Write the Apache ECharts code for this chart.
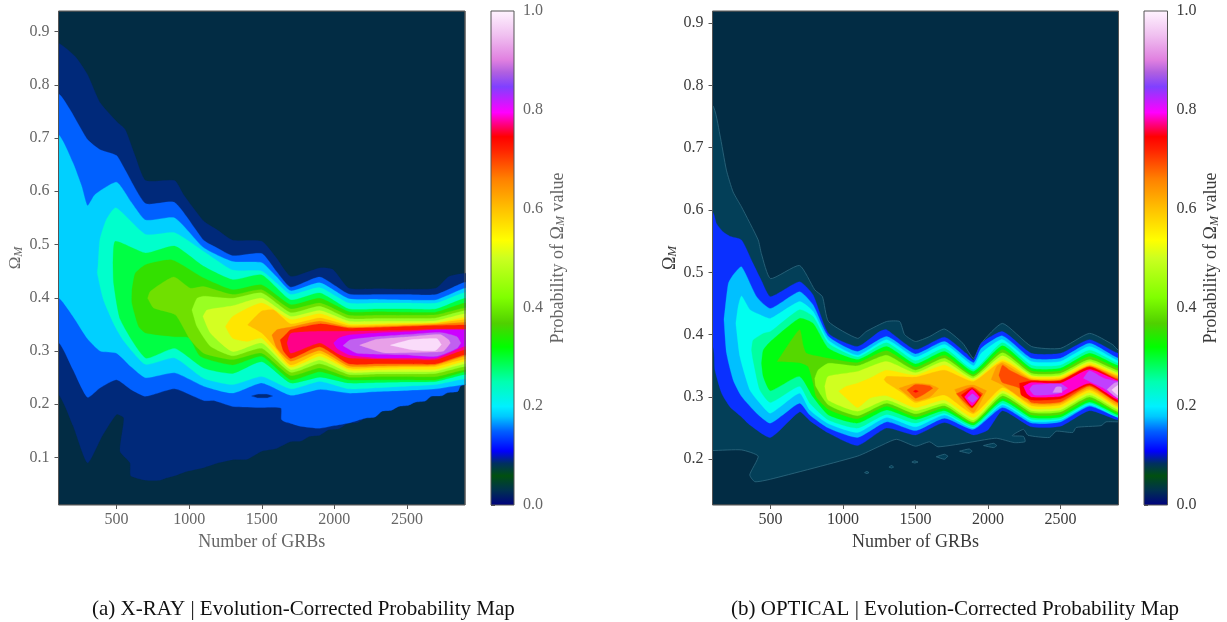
<!DOCTYPE html>
<html><head><meta charset="utf-8">
<style>html,body{margin:0;padding:0;background:#fff}#c{width:1227px;height:622px}</style>
<script src="https://cdn.jsdelivr.net/npm/echarts@6/dist/echarts.min.js"></script>
</head><body><div id="c"></div>
<script>
// tick labels
const xTicks=[500,1000,1500,2000,2500];
const xrayOmegaTicks=[0.1,0.2,0.3,0.4,0.5,0.6,0.7,0.8,0.9];
const opticalOmegaTicks=[0.2,0.3,0.4,0.5,0.6,0.7,0.8,0.9];
const barTicks=[0,0.2,0.4,0.6,0.8,1];
// colour bar
const barValues=[0,0.03,0.06,0.085,0.11,0.15,0.18,0.2,0.25,0.32,0.368,0.42,0.5,0.536,0.6,0.66,0.72,0.745,0.77,0.794,0.846,0.875,0.9,0.95,1];
const barColors=['#000080','#003050','#005010','#003060','#0000ff','#0060ff','#00c8ff','#00f0ff','#00ffb0','#00ff00','#50d000','#80ff00','#ccff20','#ffff00','#ffc000','#ff8000','#ff2000','#ff0000','#ff0080','#ff00ff','#8040ff','#b060e0','#e080e0','#f0c0f0','#fff4ff'];
// X-RAY contour levels: [N, Omega] along upper and lower edge
const a1u=[[100,.878],[215,.853],[300,.819],[387,.766],[500,.731],[559,.716],[628,.666],[700,.62],[900,.62],[960,.594],[1100,.544],[1190,.528],[1300,.508],[1500,.506],[1600,.475],[1700,.44],[1900,.456],[1990,.453],[2100,.418],[2300,.417],[2500,.416],[2700,.418],[2790,.44],[2900,.446]];
const a1l=[[100,.218],[200,.16],[300,.09],[400,.14],[500,.181],[550,.174],[524,.112],[593,.09],[598,.066],[700,.0575],[800,.0575],[845,.062],[900,.066],[983,.074],[1100,.081],[1200,.09],[1300,.096],[1400,.097],[1500,.112],[1600,.117],[1700,.13],[1770,.131],[1830,.14],[1900,.142],[1960,.152],[2030,.154],[2090,.164],[2160,.166],[2213,.174],[2280,.176],[2328,.187],[2395,.189],[2443,.196],[2510,.198],[2557,.204],[2625,.206],[2668,.215],[2740,.216],[2783,.222],[2850,.224],[2868,.234],[2900,.237]];
const a2u=[[100,.783],[180,.753],[300,.697],[387,.678],[500,.667],[559,.64],[700,.577],[900,.579],[1100,.508],[1190,.494],[1300,.479],[1500,.483],[1600,.45],[1700,.42],[1900,.439],[2100,.407],[2300,.406],[2500,.406],[2700,.406],[2900,.429]];
const a2l=[[100,.316],[200,.265],[300,.213],[387,.231],[500,.246],[598,.228],[700,.215],[900,.229],[1100,.207],[1170,.207],[1300,.196],[1500,.194],[1632,.193],[1635,.172],[1660,.167],[1700,.164],[1763,.159],[1900,.155],[2000,.16],[2100,.165],[2213,.174],[2280,.176],[2328,.187],[2395,.189],[2443,.196],[2510,.198],[2557,.204],[2625,.206],[2668,.215],[2740,.216],[2783,.222],[2850,.224],[2868,.234],[2900,.237]];
const a2islandU=[[1430,.2155],[1470,.2185],[1540,.2185],[1575,.2155]];
const a2islandL=[[1430,.2155],[1470,.2125],[1540,.2125],[1575,.2155]];
const a3u=[[100,.706],[200,.653],[260,.609],[300,.573],[352,.594],[500,.617],[600,.58],[700,.546],[900,.55],[1100,.494],[1300,.468],[1500,.466],[1600,.44],[1700,.413],[1900,.428],[2100,.398],[2300,.397],[2500,.396],[2700,.396],[2900,.418]];
const a3l=[[100,.40],[200,.365],[300,.323],[387,.30],[500,.296],[598,.271],[700,.25],[900,.259],[1100,.234],[1300,.221],[1500,.24],[1700,.217],[1900,.228],[2100,.221],[2300,.224],[2500,.226],[2700,.229],[2900,.237]];
const a4u=[[372,.459],[385,.509],[430,.547],[495,.569],[700,.519],[900,.522],[1100,.487],[1300,.452],[1500,.45],[1600,.428],[1700,.406],[1900,.419],[2100,.39],[2300,.39],[2500,.39],[2700,.39],[2900,.41]];
const a4l=[[372,.459],[368,.446],[410,.396],[490,.346],[547,.32],[700,.275],[900,.287],[1100,.249],[1300,.237],[1500,.252],[1700,.229],[1900,.243],[2100,.229],[2300,.231],[2500,.234],[2700,.237],[2900,.248]];
const a5u=[[475,.465],[491,.506],[700,.484],[900,.497],[1100,.459],[1300,.434],[1500,.443],[1700,.396],[1900,.409],[2100,.379],[2300,.379],[2500,.379],[2700,.379],[2900,.399]];
const a5l=[[475,.465],[480,.427],[526,.359],[700,.287],[900,.305],[1100,.268],[1300,.258],[1500,.28],[1700,.24],[1900,.251],[2100,.24],[2300,.241],[2500,.242],[2700,.243],[2900,.256]];
const a6u=[[606,.415],[629,.446],[700,.462],[881,.471],[1100,.437],[1300,.415],[1500,.424],[1700,.387],[1900,.399],[2100,.374],[2300,.374],[2500,.373],[2700,.373],[2900,.39]];
const a6l=[[606,.415],[606,.39],[652,.346],[700,.334],[900,.327],[1000,.325],[1077,.29],[1300,.274],[1500,.29],[1700,.246],[1900,.261],[2100,.246],[2300,.246],[2500,.246],[2700,.246],[2900,.261]];
const a7u=[[714,.399],[732,.412],[893,.439],[1008,.418],[1100,.421],[1300,.406],[1500,.415],[1700,.379],[1900,.39],[2100,.367],[2300,.367],[2500,.367],[2700,.368],[2900,.381]];
const a7l=[[714,.399],[755,.381],[905,.368],[1008,.321],[1100,.296],[1300,.284],[1500,.296],[1700,.254],[1900,.268],[2100,.251],[2300,.252],[2500,.252],[2700,.252],[2900,.265]];
const a8u=[[1019,.377],[1054,.399],[1100,.403],[1300,.399],[1500,.409],[1700,.372],[1900,.384],[2100,.361],[2300,.361],[2500,.361],[2700,.362],[2900,.376]];
const a8l=[[1019,.377],[1054,.346],[1146,.309],[1300,.291],[1500,.305],[1700,.26],[1900,.276],[2100,.256],[2300,.257],[2500,.257],[2700,.258],[2900,.271]];
const a9u=[[1095,.365],[1123,.377],[1300,.385],[1500,.399],[1700,.365],[1900,.376],[2100,.356],[2300,.356],[2500,.356],[2700,.357],[2900,.37]];
const a9l=[[1095,.365],[1146,.334],[1300,.299],[1500,.315],[1700,.265],[1900,.283],[2100,.26],[2300,.261],[2500,.261],[2700,.262],[2900,.276]];
const a10u=[[1249,.346],[1300,.365],[1500,.39],[1700,.359],[1900,.37],[2100,.351],[2300,.351],[2500,.352],[2700,.353],[2900,.363]];
const a10l=[[1249,.346],[1300,.324],[1398,.318],[1500,.324],[1700,.27],[1900,.29],[2100,.265],[2300,.265],[2500,.266],[2700,.266],[2900,.281]];
const a11u=[[1403,.349],[1500,.375],[1582,.377],[1700,.351],[1900,.362],[2100,.348],[2300,.349],[2500,.35],[2700,.352],[2900,.359]];
const a11l=[[1403,.349],[1500,.334],[1582,.31],[1700,.274],[1900,.296],[2100,.268],[2300,.269],[2500,.27],[2700,.271],[2900,.285]];
const a12u=[[1570,.33],[1605,.34],[1700,.345],[1900,.356],[2100,.345],[2300,.346],[2500,.348],[2700,.35],[2900,.354]];
const a12l=[[1570,.33],[1605,.305],[1700,.281],[1900,.301],[2100,.272],[2300,.272],[2500,.273],[2700,.274],[2900,.29]];
const a13u=[[1628,.321],[1662,.33],[1700,.34],[1900,.351],[2100,.343],[2300,.344],[2500,.346],[2700,.348],[2900,.349]];
const a13l=[[1628,.32],[1650,.30],[1700,.286],[1900,.308],[2100,.276],[2300,.276],[2500,.276],[2700,.276],[2900,.293]];
const a14u=[[1674,.315],[1700,.333],[1900,.337],[2100,.337],[2300,.338],[2500,.339],[2700,.341],[2900,.341]];
const a14l=[[1674,.315],[1700,.296],[1900,.315],[2018,.296],[2100,.287],[2300,.285],[2500,.284],[2700,.284],[2900,.303]];
const a15u=[[1995,.315],[2030,.324],[2100,.33],[2300,.334],[2500,.336],[2700,.34],[2900,.34]];
const a15l=[[1995,.315],[2018,.305],[2100,.293],[2300,.287],[2500,.287],[2700,.287],[2900,.309]];
const a16u=[[2060,.31],[2110,.321],[2248,.326],[2500,.331],[2730,.335],[2845,.327],[2872,.315]];
const a16l=[[2060,.31],[2156,.296],[2477,.293],[2707,.29],[2845,.305],[2872,.315]];
const a17u=[[2174,.311],[2294,.322],[2523,.327],[2730,.331],[2787,.321],[2799,.315]];
const a17l=[[2174,.311],[2340,.297],[2684,.298],[2753,.3],[2799,.315]];
const a18u=[[2386,.311],[2523,.321],[2707,.323],[2737,.312]];
const a18l=[[2386,.311],[2546,.302],[2696,.301],[2737,.312]];
const xrayColors=['#00297a','#0060ff','#00297a','#00d0ff','#00ffcc','#00ff44','#33e000','#70e000','#99ff22','#d4ff22','#ffe600','#ffbf00','#ff8000','#ff2000','#ff0088','#cc00ff','#c060f0','#e8a0e8','#fadcfa'];
// OPTICAL contour levels
const o1u=[[100,.768],[150,.722],[196,.664],[242,.629],[300,.605],[415,.552],[437,.53],[500,.49],[700,.511],[805,.472],[858,.461],[900,.421],[1100,.394],[1160,.405],[1300,.421],[1391,.421],[1425,.4],[1500,.389],[1597,.397],[1700,.409],[1827,.386],[1900,.362],[1953,.386],[2100,.418],[2300,.381],[2500,.378],[2700,.402],[2860,.384],[2900,.375]];
const o1l=[[100,.214],[300,.215],[415,.205],[357,.175],[392,.164],[500,.168],[1100,.205],[1253,.221],[1368,.232],[1500,.221],[1597,.228],[1655,.22],[1896,.228],[2057,.2337],[2183,.2267],[2256,.2283],[2245,.2366],[2167,.2379],[2245,.248],[2275,.2386],[2424,.235],[2470,.245],[2585,.243],[2608,.251],[2780,.254],[2814,.26],[2900,.26]];
const isle1u=[[1149,.1786],[1165,.1805],[1179,.1786]],isle1l=[[1149,.1786],[1165,.177],[1179,.1786]];
const isle2u=[[1317,.1875],[1335,.19],[1349,.1875]],isle2l=[[1317,.1875],[1335,.186],[1349,.1875]];
const isle3u=[[1475,.1955],[1495,.1975],[1517,.1955]],isle3l=[[1475,.1955],[1495,.194],[1517,.1955]];
const isle4u=[[1643,.204],[1700,.208],[1724,.205]],isle4l=[[1643,.204],[1700,.2],[1724,.205]];
const isle5u=[[1804,.213],[1870,.2165],[1891,.213]],isle5l=[[1804,.213],[1870,.2096],[1891,.213]];
const isle6u=[[1969,.222],[2040,.2256],[2061,.222]],isle6l=[[1969,.222],[2040,.2187],[2061,.222]];
const o2u=[[100,.597],[128,.578],[173,.565],[219,.558],[300,.552],[380,.514],[437,.487],[500,.461],[700,.485],[793,.464],[900,.402],[1100,.381],[1252,.405],[1300,.408],[1500,.376],[1700,.396],[1850,.37],[1900,.359],[1953,.386],[2100,.405],[2300,.37],[2500,.37],[2700,.392],[2900,.37]];
const o2l=[[100,.381],[117,.343],[163,.306],[221,.284],[300,.268],[358,.255],[500,.235],[700,.276],[771,.262],[900,.242],[1100,.222],[1300,.25],[1500,.239],[1700,.259],[1900,.239],[1999,.247],[2100,.278],[2300,.252],[2500,.253],[2700,.278],[2900,.263]];
const o3u=[[179,.424],[209,.482],[243,.496],[300,.509],[404,.461],[500,.442],[700,.469],[793,.448],[900,.397],[1100,.373],[1300,.397],[1500,.369],[1700,.389],[1900,.355],[1953,.378],[2100,.398],[2300,.362],[2500,.362],[2700,.386],[2900,.362]];
const o3l=[[179,.424],[197,.37],[243,.327],[300,.301],[404,.274],[500,.258],[700,.29],[771,.271],[900,.25],[1100,.235],[1300,.26],[1500,.246],[1700,.266],[1900,.248],[2100,.283],[2300,.258],[2500,.26],[2700,.285],[2900,.267]];
const o4u=[[261,.418],[277,.445],[300,.462],[358,.44],[427,.432],[500,.426],[700,.453],[794,.437],[900,.391],[1100,.367],[1300,.392],[1500,.364],[1700,.384],[1900,.35],[1953,.37],[2100,.392],[2300,.357],[2500,.357],[2700,.381],[2900,.358]];
const o4l=[[261,.418],[289,.365],[358,.311],[427,.29],[500,.274],[700,.306],[771,.279],[900,.257],[1100,.243],[1300,.267],[1500,.252],[1700,.271],[1900,.25],[2100,.287],[2300,.261],[2500,.263],[2700,.287],[2900,.267]];
const o5u=[[369,.375],[380,.391],[450,.402],[500,.405],[700,.44],[794,.429],[900,.386],[1100,.364],[1300,.387],[1500,.358],[1700,.378],[1900,.344],[2100,.387],[2300,.351],[2500,.351],[2700,.375],[2900,.354]];
const o5l=[[369,.375],[380,.359],[427,.311],[500,.291],[700,.317],[771,.29],[900,.263],[1100,.25],[1300,.272],[1500,.258],[1700,.274],[1900,.252],[2100,.29],[2300,.264],[2500,.265],[2700,.29],[2900,.268]];
const o6u=[[438,.354],[450,.375],[500,.389],[700,.426],[794,.418],[900,.378],[1100,.36],[1300,.381],[1500,.353],[1700,.373],[1900,.341],[2100,.382],[2300,.346],[2500,.346],[2700,.37],[2900,.35]];
const o6l=[[438,.354],[450,.333],[500,.31],[700,.333],[794,.30],[900,.271],[1100,.258],[1300,.279],[1500,.264],[1700,.278],[1900,.255],[2100,.294],[2300,.267],[2500,.268],[2700,.292],[2900,.271]];
const o7u=[[546,.357],[700,.408],[725,.383],[748,.37],[900,.362],[1100,.355],[1300,.374],[1500,.348],[1700,.367],[1900,.336],[2100,.376],[2300,.342],[2500,.342],[2700,.365],[2900,.346]];
const o7l=[[546,.357],[700,.355],[759,.349],[794,.322],[816,.30],[900,.28],[1100,.265],[1300,.285],[1500,.268],[1700,.282],[1900,.258],[2100,.298],[2300,.271],[2500,.272],[2700,.296],[2900,.274]];
const o8u=[[805,.33],[828,.343],[900,.354],[1100,.35],[1300,.367],[1500,.343],[1700,.362],[1900,.333],[2100,.371],[2300,.338],[2500,.338],[2700,.36],[2900,.342]];
const o8l=[[805,.33],[812,.317],[900,.287],[1100,.27],[1300,.29],[1500,.273],[1700,.286],[1900,.26],[2100,.302],[2300,.275],[2500,.276],[2700,.30],[2900,.276]];
const o9u=[[874,.317],[897,.333],[1100,.341],[1300,.357],[1500,.339],[1700,.357],[1900,.33],[2100,.366],[2300,.335],[2500,.335],[2700,.357],[2900,.339]];
const o9l=[[874,.317],[897,.295],[1100,.277],[1300,.295],[1500,.278],[1700,.29],[1900,.263],[2100,.306],[2300,.278],[2500,.279],[2700,.303],[2900,.279]];
const o10u=[[970,.309],[1023,.317],[1100,.322],[1184,.33],[1300,.343],[1500,.335],[1700,.351],[1900,.327],[2100,.36],[2300,.333],[2500,.333],[2700,.354],[2900,.336]];
const o10l=[[970,.309],[1023,.298],[1100,.283],[1184,.298],[1300,.302],[1500,.283],[1700,.295],[1900,.267],[2100,.31],[2300,.282],[2500,.283],[2700,.307],[2900,.282]];
const o11u=[[1283,.328],[1300,.333],[1500,.332],[1700,.343],[1900,.325],[2100,.357],[2300,.33],[2500,.33],[2700,.351],[2900,.334]];
const o11l=[[1283,.328],[1300,.323],[1413,.306],[1500,.291],[1700,.303],[1900,.273],[2100,.315],[2300,.286],[2500,.287],[2700,.311],[2900,.284]];
const o12au=[[1386,.314],[1500,.322],[1600,.32],[1660,.314]],o12al=[[1386,.314],[1500,.294],[1600,.30],[1660,.314]];
const o12bu=[[1770,.312],[1850,.318],[1900,.319],[1990,.31]],o12bl=[[1770,.312],[1810,.295],[1900,.275],[1990,.31]];
const o12cu=[[2022,.328],[2060,.349],[2100,.354],[2300,.328],[2500,.328],[2700,.35],[2900,.332]],o12cl=[[2022,.328],[2100,.319],[2300,.289],[2500,.29],[2700,.314],[2900,.287]];
const o13au=[[1441,.311],[1500,.32],[1597,.318],[1620,.314]],o13al=[[1441,.311],[1500,.298],[1550,.303],[1620,.314]];
const o13bu=[[1781,.305],[1890,.316],[1965,.305]],o13bl=[[1781,.305],[1890,.282],[1965,.305]];
const o13cu=[[2075,.335],[2100,.351],[2150,.343],[2300,.327],[2500,.327],[2700,.349],[2900,.329]],o13cl=[[2075,.335],[2100,.323],[2217,.314],[2300,.291],[2500,.292],[2700,.317],[2900,.29]];
const o14au=[[1485,.309],[1502,.311],[1520,.309]],o14al=[[1485,.309],[1502,.307],[1520,.309]];
const o14bu=[[1815,.303],[1890,.314],[1955,.303]],o14bl=[[1815,.303],[1890,.283],[1955,.303]];
const o14cu=[[2217,.322],[2300,.326],[2500,.326],[2700,.348],[2900,.327]],o14cl=[[2217,.322],[2230,.303],[2300,.295],[2500,.297],[2700,.319],[2900,.291]];
const o15bu=[[1838,.30],[1890,.312],[1942,.30]],o15bl=[[1838,.30],[1890,.286],[1942,.30]];
const o15cu=[[2245,.317],[2300,.323],[2500,.322],[2700,.344],[2900,.326]],o15cl=[[2245,.317],[2270,.305],[2300,.300],[2500,.301],[2700,.322],[2900,.295]];
const o16bu=[[1857,.298],[1893,.305],[1930,.298]],o16bl=[[1857,.298],[1893,.291],[1930,.298]];
const o16cu=[[2286,.312],[2310,.319],[2500,.321],[2550,.314]],o16cl=[[2286,.312],[2320,.303],[2480,.305],[2550,.314]];
const o16du=[[2658,.33],[2700,.342],[2800,.33],[2900,.325]],o16dl=[[2658,.33],[2700,.325],[2790,.315],[2900,.298]];
const o17au=[[2447,.307],[2470,.316],[2505,.316],[2511,.307]],o17al=[[2447,.307],[2511,.307]];
const o17bu=[[2821,.312],[2870,.322],[2900,.324]],o17bl=[[2821,.312],[2870,.302],[2900,.298]];
const o18u=[[2853,.311],[2900,.319]],o18l=[[2853,.311],[2900,.302]];
const opticalDark='#033f58',opticalBlue='#0a30ff',opticalOrange='#ff9a00',opticalRedOrange='#ff4a00',opticalRed='#ff0000',opticalMagenta='#ff00d0',opticalViolet='#c040ff',opticalLilac='#d890f0',opticalPale='#f4d4f4';

const xrayPairs=[[a1u,a1l],[a2u,a2l],[a2islandU,a2islandL],[a3u,a3l],[a4u,a4l],[a5u,a5l],[a6u,a6l],[a7u,a7l],[a8u,a8l],[a9u,a9l],[a10u,a10l],[a11u,a11l],[a12u,a12l],[a13u,a13l],[a14u,a14l],[a15u,a15l],[a16u,a16l],[a17u,a17l],[a18u,a18l]];
const xrayBands=xrayPairs.map((p,i)=>({u:p[0],l:p[1],color:xrayColors[i]}));
const ob=(u,l,color,stroke)=>({u,l,color,stroke});
const edge='#2f6a80';
const opticalBands=[
 ob(o1u,o1l,opticalDark,edge),ob(isle1u,isle1l,opticalDark,edge),ob(isle2u,isle2l,opticalDark,edge),ob(isle3u,isle3l,opticalDark,edge),ob(isle4u,isle4l,opticalDark,edge),ob(isle5u,isle5l,opticalDark,edge),ob(isle6u,isle6l,opticalDark,edge),
 ob(o2u,o2l,opticalBlue),ob(o3u,o3l,'#00c0ff'),ob(o4u,o4l,'#00fff0'),ob(o5u,o5l,'#00ffa0'),ob(o6u,o6l,'#00ff10'),ob(o7u,o7l,'#55d800'),ob(o8u,o8l,'#90ff10'),ob(o9u,o9l,'#d0ff20'),ob(o10u,o10l,'#ffe800'),ob(o11u,o11l,'#ffbf00'),
 ob(o12au,o12al,opticalOrange),ob(o12bu,o12bl,opticalOrange),ob(o12cu,o12cl,opticalOrange),
 ob(o13au,o13al,opticalRedOrange),ob(o13bu,o13bl,opticalRedOrange),ob(o13cu,o13cl,opticalRedOrange),
 ob(o14au,o14al,opticalRed),ob(o14bu,o14bl,opticalRed),ob(o14cu,o14cl,opticalRed),
 ob(o15bu,o15bl,opticalMagenta),ob(o15cu,o15cl,opticalMagenta),
 ob(o16bu,o16bl,opticalViolet),ob(o16cu,o16cl,opticalViolet),ob(o16du,o16dl,opticalViolet),
 ob(o17au,o17al,opticalLilac),ob(o17bu,o17bl,opticalLilac),ob(o18u,o18l,opticalPale)
];

const serif='"Liberation Serif"';
const spine='#555';
// maps the two edges to pixels; ends on the plot's side walls run on outside the clip so rounding stays hidden
function outline(b,api,c){
  const up=b.u.map(p=>api.coord(p)),lo=b.l.map(p=>api.coord(p));
  const pad=24,out=[];
  const ua=up[0],la=lo[0],uz=up[up.length-1],lz=lo[lo.length-1];
  const onLeft=Math.abs(ua[0]-c.x)<1, onRight=Math.abs(uz[0]-c.x-c.width)<1;
  if(onLeft)out.push([ua[0]-pad,ua[1]]);
  out.push(...up);
  if(onRight){out.push([uz[0]+pad,uz[1]],[lz[0]+pad,lz[1]]);}
  out.push(...lo.slice().reverse());
  if(onLeft)out.push([la[0]-pad,la[1]]);
  return out;
}
const contourSeries=(idx,bands)=>({
  type:'custom',xAxisIndex:idx,yAxisIndex:idx,clip:true,silent:true,animation:false,
  data:bands.map(b=>b.u[0]).concat([[2900,0.5]]),
  renderItem(params,api){
    const b=bands[params.dataIndex],c=params.coordSys;
    if(!b)return{type:'rect',shape:{x:c.x,y:c.y,width:c.width,height:c.height},style:{fill:'none',stroke:spine,lineWidth:1}};
    return{type:'polygon',shape:{points:outline(b,api,c),smooth:0.18},style:{fill:b.color,stroke:b.stroke||b.color,lineWidth:b.stroke?0.8:0.3}};
  }
});
const barSeries=idx=>({
  type:'custom',xAxisIndex:idx,yAxisIndex:idx,silent:true,animation:false,data:[[0,0]],
  renderItem(params,api){
    const a=api.coord([0,0]),b=api.coord([1,1]);
    return{type:'rect',shape:{x:a[0],y:b[1],width:b[0]-a[0],height:a[1]-b[1]},style:{stroke:spine,lineWidth:1,
      fill:new echarts.graphic.LinearGradient(0,1,0,0,barValues.map((v,i)=>({offset:v,color:barColors[i]})))}};
  }
});
const ticks=(vals,color,size,margin)=>({
  axisLine:{show:false},axisTick:{length:4,lineStyle:{color:spine},customValues:vals},splitLine:{show:false},
  axisLabel:{customValues:vals,color,fontFamily:serif,fontSize:size,margin,formatter:v=>Number.isInteger(v)&&v>1?String(v):Number(v).toFixed(1)}
});
const rich=(c,s1,s2)=>({color:c,fontFamily:serif,rich:{t:{fontFamily:serif,fontSize:s1,color:c},o:{fontFamily:serif,fontSize:s1,color:c},s:{fontFamily:serif,fontSize:s2,color:c,fontStyle:'italic',verticalAlign:'bottom',padding:[4,0,0,0]}}});
const lightC='#666',darkC='#3a3a3a';
const capStyle={fontFamily:serif,fontSize:21,fontWeight:'normal',color:'#111'};
const option={
  animation:false,backgroundColor:'#fff',
  title:[
    {text:'(a) X-RAY | Evolution-Corrected Probability Map',left:87,top:594,textStyle:capStyle},
    {text:'(b) OPTICAL | Evolution-Corrected Probability Map',left:726,top:594,textStyle:capStyle}
  ],
  grid:[
    {left:58.5,top:11,width:406.5,height:494,show:true,backgroundColor:'#022c44',borderColor:spine,borderWidth:1,containLabel:false},
    {left:491,top:11,width:23,height:494},
    {left:712.5,top:11,width:406,height:494,show:true,backgroundColor:'#022c44',borderColor:spine,borderWidth:1,containLabel:false},
    {left:1144,top:11,width:23.5,height:494}
  ],
  xAxis:[
    {type:'value',gridIndex:0,min:100,max:2900,name:'Number of GRBs',nameLocation:'middle',nameGap:28,nameTextStyle:{fontFamily:serif,fontSize:18,color:lightC},...ticks(xTicks,lightC,16,7)},
    {type:'value',gridIndex:1,min:0,max:1,show:false},
    {type:'value',gridIndex:2,min:100,max:2900,name:'Number of GRBs',nameLocation:'middle',nameGap:28,nameTextStyle:{fontFamily:serif,fontSize:18,color:darkC},...ticks(xTicks,darkC,16,7)},
    {type:'value',gridIndex:3,min:0,max:1,show:false}
  ],
  yAxis:[
    {type:'value',gridIndex:0,min:0.0109,max:0.9385,name:'{o|Ω}{s|M}',nameLocation:'middle',nameRotate:90,nameGap:34,nameTextStyle:rich(lightC,17,12),...ticks(xrayOmegaTicks,lightC,16,9)},
    {type:'value',gridIndex:1,min:0,max:1,position:'right',name:'{t|Probability of Ω}{s|M}{t| value}',nameLocation:'middle',nameRotate:90,nameGap:35,nameTextStyle:rich(lightC,18,12),...ticks(barTicks,lightC,16,9)},
    {type:'value',gridIndex:2,min:0.1266,max:0.9194,name:'{o|Ω}{s|M}',nameLocation:'middle',nameRotate:90,nameGap:33,nameTextStyle:rich(darkC,18,13),...ticks(opticalOmegaTicks,darkC,16,9)},
    {type:'value',gridIndex:3,min:0,max:1,position:'right',name:'{t|Probability of Ω}{s|M}{t| value}',nameLocation:'middle',nameRotate:90,nameGap:35,nameTextStyle:rich(darkC,18,12),...ticks(barTicks,darkC,16,9)}
  ],
  series:[contourSeries(0,xrayBands),barSeries(1),contourSeries(2,opticalBands),barSeries(3)]
};
const chart=echarts.init(document.getElementById('c'),null,{renderer:'canvas'});
chart.setOption(option);
</script></body></html>
